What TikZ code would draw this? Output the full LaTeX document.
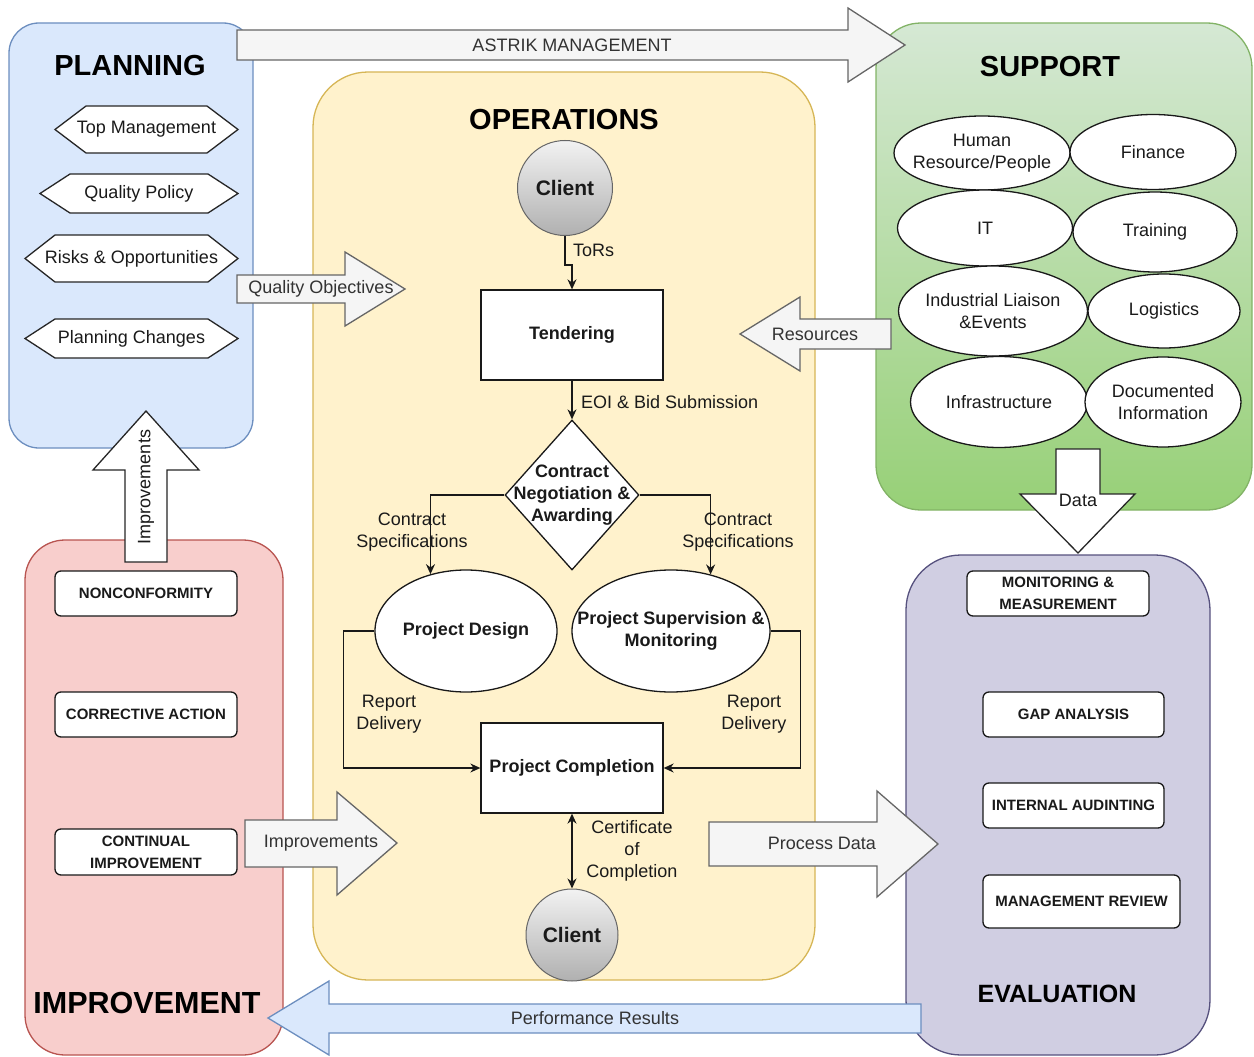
\documentclass[tikz,border=0pt]{standalone}
\usepackage{fontspec}
\setmainfont{Liberation Sans}
\usetikzlibrary{shapes.geometric,arrows.meta}
\newcommand\myfs[1]{\fontsize{#1}{22}\selectfont}
\definecolor{plfill}{HTML}{DAE8FC}
\definecolor{plline}{HTML}{6C8EBF}
\definecolor{opfill}{HTML}{FFF2CC}
\definecolor{opline}{HTML}{D6B656}
\definecolor{sutop}{HTML}{D5E8D4}
\definecolor{subot}{HTML}{97D077}
\definecolor{suline}{HTML}{82B366}
\definecolor{evfill}{HTML}{D0CEE2}
\definecolor{evline}{HTML}{56517E}
\definecolor{imfill}{HTML}{F8CECC}
\definecolor{imline}{HTML}{B85450}
\definecolor{gafill}{HTML}{F5F5F5}
\definecolor{galine}{HTML}{666666}
\definecolor{gatxt}{HTML}{333333}
\definecolor{txc}{HTML}{1A1A1A}
\definecolor{cltop}{HTML}{F2F2F2}
\definecolor{clbot}{HTML}{B0B0B0}
\definecolor{clline}{HTML}{666666}
\tikzset{
  reg/.style={line width=1.3pt},
  blk/.style={fill=gafill, draw=galine, line width=1.3pt, line join=miter},
  bblk/.style={fill=plfill, draw=plline, line width=1.3pt, line join=miter},
  wblk/.style={fill=white, draw=black!85, line width=1.3pt, line join=miter},
  gtx/.style={text=gatxt, font=\myfs{18}, inner sep=1pt},
  ttl/.style={font=\bfseries\myfs{29}, text=black, inner sep=0pt},
  hexst/.style={fill=white, draw=black!85, line width=1.3pt},
  tx/.style={font=\myfs{18}, text=txc, inner sep=1pt, align=center},
  btx/.style={font=\bfseries\myfs{18}, text=txc, inner sep=1pt, align=center},
  proc/.style={rectangle, draw=black!90, fill=white, line width=1.3pt, minimum width=182pt, minimum height=90pt, inner sep=0pt, font=\bfseries\myfs{18}, text=txc},
  client/.style={circle, draw=clline, line width=1pt, top color=cltop, bottom color=clbot, inner sep=0pt, font=\bfseries\myfs{21}, text=txc},
  ell/.style={ellipse, draw=black!90, fill=white, line width=1.3pt, inner sep=0pt},
  dia/.style={diamond, draw=black!90, fill=white, line width=1.3pt, inner sep=0pt},
  sbox/.style={rectangle, rounded corners=6pt, draw=black!90, fill=white, line width=1.3pt, inner sep=0pt, font=\bfseries\myfs{15}, text=txc, align=center},
  conn/.style={draw=black!90, line width=1.3pt, -{Stealth[length=10pt,width=9pt]}},
  conn2/.style={draw=black!90, line width=1.3pt, {Stealth[length=10pt,width=9pt]}-{Stealth[length=10pt,width=9pt]}},
}
\newcommand\hexnode[7]{%
  \draw[hexst] (#2,{(#4+#5)/2}) -- (#2+#6,#4) -- (#3-#6,#4) -- (#3,{(#4+#5)/2}) -- (#3-#6,#5) -- (#2+#6,#5) -- cycle;
  \node[tx] (#1) at ({(#2+#3)/2},{(#4+#5)/2}) {#7};}
\begin{document}
\begin{tikzpicture}[x=1pt,y=-1pt]
\useasboundingbox (0,0) rectangle (1254,1057);
% regions
\draw[reg, fill=plfill, draw=plline, rounded corners=30pt] (9,23) rectangle (253,448);
\draw[reg, fill=imfill, draw=imline, rounded corners=40pt] (25,540) rectangle (283,1055);
\draw[reg, fill=opfill, draw=opline, rounded corners=55pt] (313,72) rectangle (815,980);
\draw[reg, top color=sutop, bottom color=subot, draw=suline, rounded corners=45pt] (876,23) rectangle (1252,510);
\draw[reg, fill=evfill, draw=evline, rounded corners=55pt] (906,555) rectangle (1210,1055);
% titles
\node[ttl] (tpl) at (130,66) {PLANNING};
\node[ttl] (top) at (564,120) {OPERATIONS};
\node[ttl] (tsu) at (1050,67) {SUPPORT};
\node[ttl, font=\bfseries\myfs{30.5}] (tim) at (147,1003) {IMPROVEMENT};
\node[ttl, font=\bfseries\myfs{25}] (tev) at (1057,994) {EVALUATION};
% planning hexagons
\hexnode{tm}{55}{238}{106}{153}{31}{Top Management}
\hexnode{qp}{40}{238}{174}{213}{30}{Quality Policy}
\hexnode{ro}{25}{238}{235}{282}{30}{Risks \& Opportunities}
\hexnode{pch}{25}{238}{319}{358}{30}{Planning Changes}
% block arrows
\draw[blk] (237,30) -- (848,30) -- (848,8) -- (905,45) -- (848,82) -- (848,60) -- (237,60) -- cycle;
\node[gtx] (aam) at (572,45) {ASTRIK MANAGEMENT};
\draw[blk] (237,275) -- (345,275) -- (345,252) -- (405,289) -- (345,326) -- (345,303) -- (237,303) -- cycle;
\node[gtx] (aqo) at (321,289) {Quality Objectives};
\draw[blk] (891,319) -- (800,319) -- (800,297) -- (740,334) -- (800,371) -- (800,349) -- (891,349) -- cycle;
\node[gtx] (ares) at (815,334) {Resources};
\draw[blk] (245,820) -- (337,820) -- (337,792) -- (397,843) -- (337,895) -- (337,867) -- (245,867) -- cycle;
\node[gtx] (aimp) at (321,843) {Improvements};
\draw[blk] (709,822) -- (877,822) -- (877,791) -- (938,844) -- (877,897) -- (877,866) -- (709,866) -- cycle;
\node[gtx] (apd) at (822,843) {Process Data};
\draw[bblk] (921,1004) -- (329,1004) -- (329,981) -- (268,1018) -- (329,1055) -- (329,1033) -- (921,1033) -- cycle;
\node[gtx] (apr) at (595,1018) {Performance Results};
\draw[wblk] (1056,449) -- (1100,449) -- (1100,494) -- (1135,494) -- (1078,553) -- (1020,494) -- (1056,494) -- cycle;
\node[tx] (adata) at (1078,500) {Data};
\draw[wblk] (125,562) -- (125,470) -- (93,470) -- (146,411) -- (199,470) -- (167,470) -- (167,562) -- cycle;
\node[tx, rotate=90] (aup) at (146,487) {Improvements};
% support ellipses
\node[ell, minimum width=176pt, minimum height=74pt] (hr) at (982,153) {};
\node[tx] at (hr) {Human\\Resource/People};
\node[ell, minimum width=166pt, minimum height=75pt] (fin) at (1153,152) {};
\node[tx] at (fin) {Finance};
\node[ell, minimum width=175pt, minimum height=76pt] (it) at (985,228) {};
\node[tx] at (it) {IT};
\node[ell, minimum width=164pt, minimum height=80pt] (tr) at (1155,232) {};
\node[tx] at (tr) {Training};
\node[ell, minimum width=189pt, minimum height=90pt] (il) at (993,311) {};
\node[tx] at (il) {Industrial Liaison\\\&Events};
\node[ell, minimum width=152pt, minimum height=74pt] (lo) at (1164,311) {};
\node[tx] at (lo) {Logistics};
\node[ell, minimum width=177pt, minimum height=91pt] (inf) at (999,402) {};
\node[tx] at (inf) {Infrastructure};
\node[ell, minimum width=156pt, minimum height=90pt] (doc) at (1163,402) {};
\node[tx] at (doc) {Documented\\Information};
% operations flow
\node[client, minimum size=95pt] (cl1) at (565,188) {Client};
\node[proc] (tend) at (572,335) {Tendering};
\node[dia, minimum width=134pt, minimum height=150pt] (dia) at (572,495) {};
\node[btx] at (dia) {Contract\\Negotiation \&\\Awarding};
\node[ell, minimum width=182pt, minimum height=122pt] (pd) at (466,631) {};
\node[btx] at (pd) {Project Design};
\node[ell, minimum width=198pt, minimum height=122pt] (psm) at (671,631) {};
\node[btx] at (psm) {Project Supervision \&\\Monitoring};
\node[proc] (pc) at (572,768) {Project Completion};
\node[client, minimum size=92pt] (cl2) at (572,935) {Client};
\draw[conn] (cl1.south) -- ++(0,29) -| (tend.north);
\node[tx, anchor=west] (ltors) at (572,250) {ToRs};
\draw[conn] (tend.south) -- (dia.north);
\node[tx, anchor=west] (leoi) at (580,402) {EOI \& Bid Submission};
\draw[conn] (dia.west) -| (pd.122);
\node[tx] (lcs1) at (412,532) {Contract\\Specifications};
\draw[conn] (dia.east) -| (psm.55);
\node[tx] (lcs2) at (738,532) {Contract\\Specifications};
\draw[conn] (pd.west) -- ++(-31,0) |- (pc.west);
\node[tx] (lrd1) at (389,714) {Report\\Delivery};
\draw[conn] (psm.east) -- ++(30,0) |- (pc.east);
\node[tx] (lrd2) at (754,714) {Report\\Delivery};
\draw[conn2] (pc.south) -- (cl2.north);
\node[tx] (lcert) at (632,851) {Certificate\\of\\Completion};
% evaluation boxes
\node[sbox, minimum width=182pt, minimum height=45pt] (mm) at (1058,593.5) {MONITORING \&\\MEASUREMENT};
\node[sbox, minimum width=181pt, minimum height=45pt] (gap) at (1073.5,714.5) {GAP ANALYSIS};
\node[sbox, minimum width=181pt, minimum height=45pt] (ia) at (1073.5,805.5) {INTERNAL AUDINTING};
\node[sbox, minimum width=197pt, minimum height=53pt] (mr) at (1081.5,901.5) {MANAGEMENT REVIEW};
% improvement boxes
\node[sbox, minimum width=182pt, minimum height=45pt] (nc) at (146,593.5) {NONCONFORMITY};
\node[sbox, minimum width=182pt, minimum height=45pt] (ca) at (146,714.5) {CORRECTIVE ACTION};
\node[sbox, minimum width=182pt, minimum height=46pt] (ci) at (146,852) {CONTINUAL\\IMPROVEMENT};
\end{tikzpicture}
\end{document}
